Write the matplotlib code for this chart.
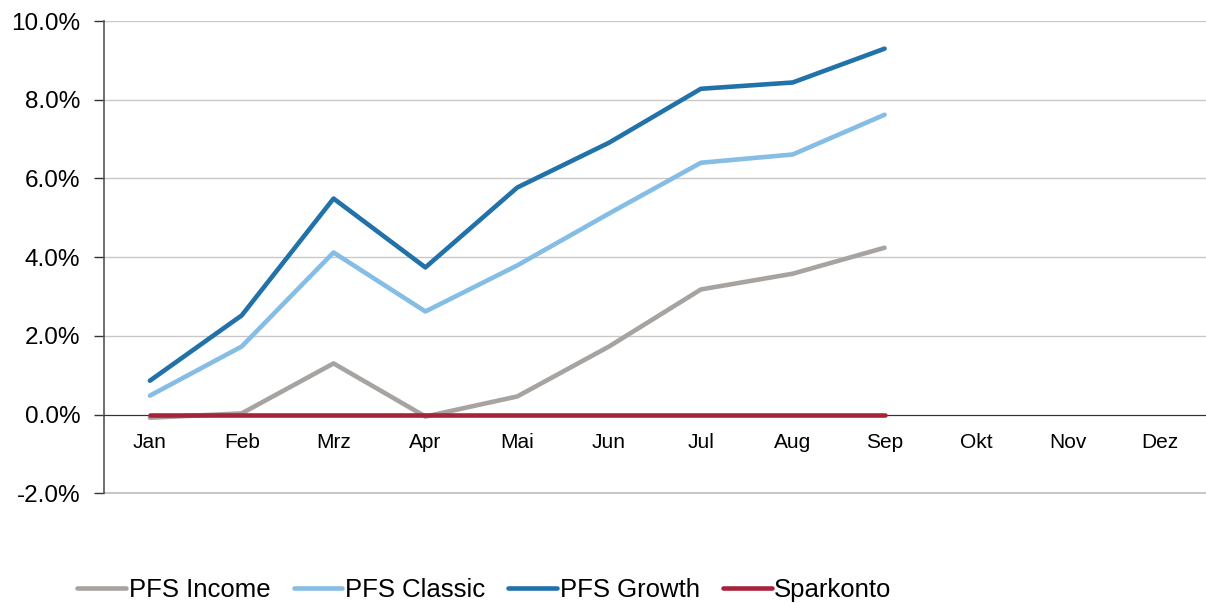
import numpy as np
import matplotlib.pyplot as plt
from matplotlib.ticker import FuncFormatter

# ==========================
# Data
# ==========================
months = ["Jan", "Feb", "Mrz", "Apr", "Mai", "Jun",
          "Jul", "Aug", "Sep", "Okt", "Nov", "Dez"]

pfs_income = [-0.08, 0.03, 1.30, -0.05, 0.46, 1.73, 3.18, 3.58, 4.24]
pfs_classic = [0.48, 1.73, 4.12, 2.62, 3.79, 5.11, 6.40, 6.61, 7.62]
pfs_growth = [0.86, 2.52, 5.49, 3.74, 5.77, 6.91, 8.28, 8.44, 9.30]
sparkonto = [0.0, 0.0, 0.0, 0.0, 0.0, 0.0, 0.0, 0.0, 0.0]

series = [
    ("PFS Income", pfs_income, "#A7A3A1"),
    ("PFS Classic", pfs_classic, "#86BDE5"),
    ("PFS Growth", pfs_growth, "#2272AA"),
    ("Sparkonto", sparkonto, "#A8223A"),
]

plt.rcParams['font.family'] = ['Liberation Sans', 'DejaVu Sans']

# ==========================
# Plot
# ==========================
fig = plt.figure(figsize=(12.06, 6.03), dpi=100)
ax = fig.add_axes([0.0862, 0.182, 0.9138, 0.783])

# axis lines first (moving a spine resets the ticks)
for s in ['top', 'right']:
    ax.spines[s].set_visible(False)
ax.spines['bottom'].set_position(('data', 0))
ax.spines['bottom'].set_color('#333333')
ax.spines['left'].set_color('#555555')
ax.spines['left'].set_linewidth(1.2)

x = np.arange(len(months))
for name, vals, col in series:
    ax.plot(x[:len(vals)], vals, color=col, lw=3.3,
            solid_capstyle='round', label=name, zorder=3)

ax.set_xlim(-0.5, 11.5)
ax.set_ylim(-2, 10)
ax.set_yticks(np.arange(-2, 10.1, 2))
ax.yaxis.set_major_formatter(FuncFormatter(lambda v, p: f"{v:.1f}%"))
ax.grid(axis='y', color='#C8C8C8', lw=1)
ax.axhline(-2, color='#C8C8C8', lw=1.5, clip_on=False, zorder=0)
ax.set_axisbelow(True)

ax.set_xticks(x)
ax.set_xticklabels(months)
ax.tick_params(axis='x', length=0, pad=13, labelsize=15)
ax.tick_params(axis='y', length=7, width=1, color='#333333',
               labelsize=17.5, pad=10)

fig.legend(loc='lower left', bbox_to_anchor=(0.045, -0.037), ncol=4,
           frameon=False, fontsize=18.5, handlelength=1.9,
           handletextpad=0.1, columnspacing=0.9)

fig.savefig("out.png", dpi=100)
